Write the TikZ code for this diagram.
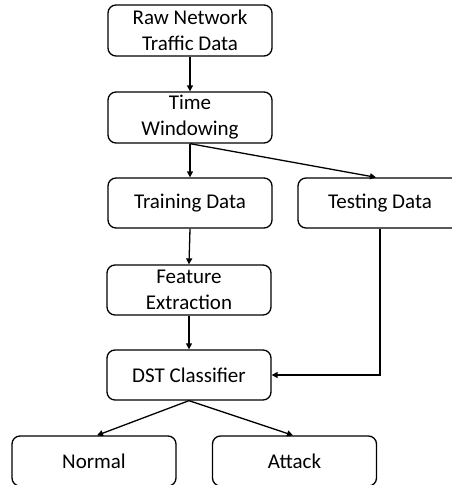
\documentclass[tikz,border=0pt]{standalone}
\usepackage{fontspec}
\setmainfont{Carlito}
\usetikzlibrary{arrows.meta}
\begin{document}
\begin{tikzpicture}[x=1pt,y=-1pt,
  box/.style={draw=black, line width=1.3pt, rounded corners=8pt, align=center,
    minimum width=164pt, minimum height=51pt, inner sep=0pt,
    font=\fontsize{21}{26}\selectfont},
  conn/.style={line width=1.3pt, -{Triangle[length=6pt,width=6pt]}}]
\useasboundingbox (0,0) rectangle (452,485);
\clip (0,0) rectangle (452,485);
\node[box] (raw) at (190,30.5) {Raw Network\\Traffic Data};
\node[box] (tw) at (190,117.5) {Time\\Windowing};
\node[box, minimum height=50pt] (train) at (190,203) {Training Data};
\node[box, minimum height=50pt] (test) at (380,203) {Testing Data};
\node[box, minimum height=50pt] (feat) at (189,290) {Feature\\Extraction};
\node[box, minimum height=50pt] (dst) at (189,375) {DST Classifier};
\node[box, minimum height=50pt] (normal) at (94,461) {Normal};
\node[box, minimum height=50pt] (attack) at (294.5,461) {Attack};
\draw[conn] (raw.south) -- (tw.north);
\draw[conn] (tw.south) -- (train.north);
\draw[conn] (tw.south) -- ([xshift=-4pt]test.north);
\draw[conn] (train.south) -- (feat.north);
\draw[conn] (feat.south) -- (dst.north);
\draw[conn] (test.south) |- (dst.east);
\draw[conn] (dst.south) -- ([xshift=3pt]normal.north);
\draw[conn] (dst.south) -- ([xshift=-1.5pt]attack.north);
\end{tikzpicture}
\end{document}
